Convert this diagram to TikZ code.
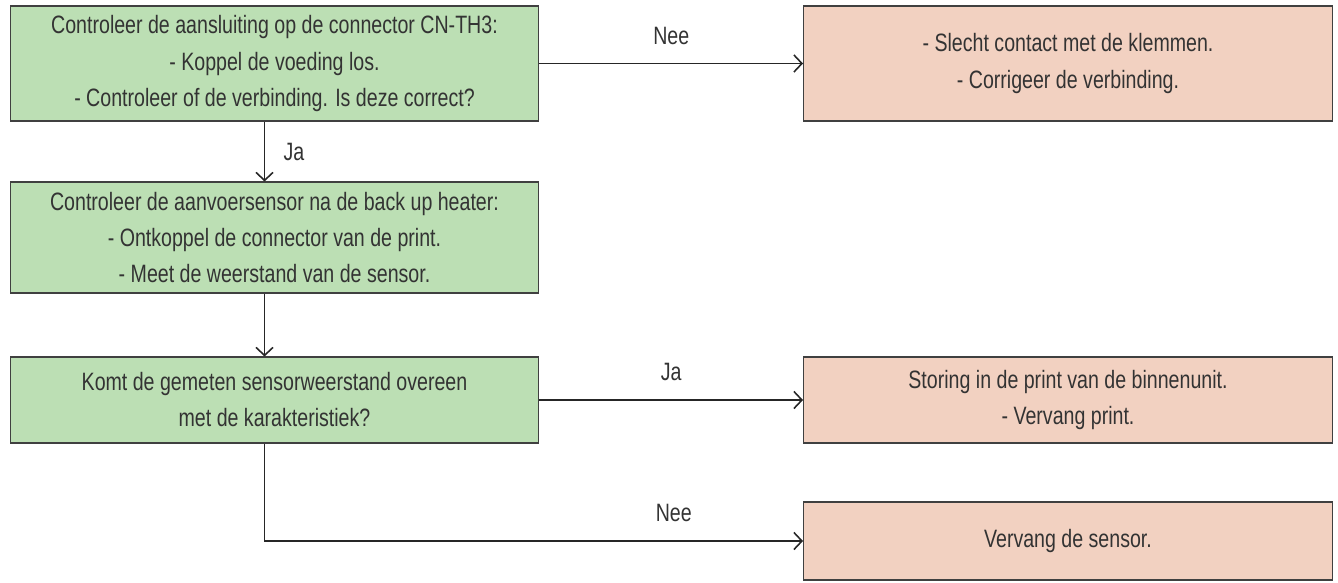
\documentclass[tikz,border=0pt]{standalone}
\usepackage{fontspec}
\setmainfont{Liberation Sans}[FakeStretch=0.78]
\usepackage{xcolor}
\usetikzlibrary{positioning, arrows.meta}
\definecolor{chkgreen}{HTML}{BCDFB4}
\definecolor{fixpink}{HTML}{F2D1C1}
\definecolor{txtgray}{HTML}{333333}

\begin{document}
\begin{tikzpicture}[x=0.02cm, y=-0.02cm,
  box/.style={draw=black!75, fill=#1, line width=0.6pt, minimum width=10.58cm, align=center, inner sep=0pt, text=txtgray, font=\fontsize{14.3}{20.5}\selectfont},
  arr/.style={-{Straight Barb[length=1.6mm, width=3.4mm]}, line width=0.9pt, draw=black!85},
  lbl/.style={text=txtgray, font=\fontsize{14.3}{17}\selectfont},
]
\useasboundingbox (0,0) rectangle (1338,582);

% -- checks (left) --
\node[box=chkgreen, minimum height=2.3cm] (conn) at (274.5,63.5) {Controleer de aansluiting op de connector CN-TH3:\\- Koppel de voeding los.\\- Controleer of de verbinding. Is deze correct?};
\node[box=chkgreen, minimum height=2.22cm] (sensor) at (274.5,237.5) {Controleer de aanvoersensor na de back up heater:\\- Ontkoppel de connector van de print.\\- Meet de weerstand van de sensor.};
\node[box=chkgreen, minimum height=1.72cm] (match) at (274.5,400) {Komt de gemeten sensorweerstand overeen\\met de karakteristiek?};

% -- remedies (right) --
\node[box=fixpink, minimum height=2.3cm] (contact) at (1068,63.5) {- Slecht contact met de klemmen.\\- Corrigeer de verbinding.};
\node[box=fixpink, minimum height=1.72cm] (board) at (1068,400) {Storing in de print van de binnenunit.\\- Vervang print.};
\node[box=fixpink, minimum height=1.56cm] (replace) at (1068,541) {Vervang de sensor.};

% -- connectors --
\draw[arr] (conn) -- node[lbl, above=0.25cm] {Nee} (contact);
\draw[arr] ([xshift=-0.2cm]conn.south) -- node[lbl, right=0.25cm] {Ja} ([xshift=-0.2cm]sensor.north);
\draw[arr] ([xshift=-0.2cm]sensor.south) -- ([xshift=-0.2cm]match.north);
\draw[arr] (match) -- node[lbl, above=0.25cm] {Ja} (board);
\draw[arr] ([xshift=-0.2cm]match.south) |- node[lbl, pos=0.88, above=0.25cm] {Nee} (replace);
\end{tikzpicture}
\end{document}
